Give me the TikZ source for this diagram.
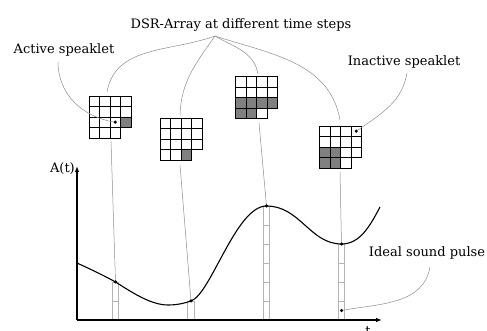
\documentclass[tikz,border=0pt]{standalone}
\usepackage{fontspec}
\setmainfont{DejaVu Serif}
\usetikzlibrary{arrows.meta}
\definecolor{ink}{HTML}{000000}
\definecolor{cellon}{HTML}{808080}
\definecolor{barline}{HTML}{B4B4B4}
\definecolor{leadgray}{HTML}{8C8C8C}
\tikzset{
  every node/.style={font=\fontsize{13}{15.5}\selectfont},
  cell/.style={draw=ink, line width=0.8pt, minimum size=10.5pt, inner sep=0pt, outer sep=0pt},
  oncell/.style={cell, fill=cellon},
  level/.style={draw=barline, line width=0.9pt, minimum width=6.5pt, minimum height=19pt,
                inner sep=0pt, outer sep=0pt},
  lead/.style={draw=leadgray, line width=0.5pt},
  axis/.style={-{Latex[length=6pt, width=4.5pt]}, line width=1.1pt, draw=ink},
  pulse/.style={line width=1.1pt, draw=ink},
  lbl/.style={inner sep=0pt, text=ink},
  spot/.style={circle, fill=ink, inner sep=0pt, minimum size=3.5pt},
}
% 4x4 speaklet array without its lower right cell; #4 lists the active cells (row/col)
\newcommand{\dsrgrid}[4]{%
  \foreach \r/\n in {1/4,2/4,3/4,4/3}
    \foreach \c in {1,...,\n}
      \node[cell] (#1-\r-\c) at ({#2+10.5*\c-5.25},{#3-10.5*\r+5.25}) {};
  \foreach \r/\c in {#4}
    \node[oncell] at (#1-\r-\c) {};
}

\begin{document}
\begin{tikzpicture}[x=1pt, y=1pt]
\useasboundingbox (0,0) rectangle (487,331);

% --- quantisation levels under each sample ---
\foreach \x/\n [count=\k] in {115.5/2, 191/1, 266.5/6, 341.5/4}
  \foreach \i in {1,...,\n}
    \node[level] (bar\k-\i) at (\x, {1.5+19*\i}) {};

% --- axes ---
\coordinate (o) at (77,11);
\coordinate (ytop) at (77,165);
\coordinate (xend) at (382,11);
\draw[axis] (o) -- (ytop);
\draw[axis] (o) -- (xend);
\node[lbl, anchor=east] (alabel) at (75,162) {A(t)};
\node[lbl, anchor=north] (tlabel) at (368,5) {t};

% --- sampled pulse ---
\node[spot] (s1) at (115.5,49) {};
\node[spot] (s2) at (191,30) {};
\node[spot] (s3) at (266.5,125) {};
\node[spot] (s4) at (341.5,87) {};
\draw[pulse] (77,68) .. controls (90,62) and (103,56) .. (s1.center)
  .. controls (130,40) and (150,26) .. (168,26)
  .. controls (178,26) and (185,28) .. (s2.center)
  .. controls (211,37) and (236,125) .. (s3.center)
  .. controls (300,125) and (310,87) .. (s4.center)
  .. controls (360,87) and (370,105) .. (380,124);

% --- DSR arrays ---
\dsrgrid{g1}{89}{235}{3/4}
\dsrgrid{g2}{160}{213}{4/3}
\dsrgrid{g3}{235.5}{254.5}{3/1,3/2,3/3,3/4,4/1,4/2}
\dsrgrid{g4}{319.5}{205}{3/1,3/2,4/1,4/2}
\node[spot] (adot) at (g1-3-3) {};
\node[spot] (idot) at (g4-1-4) {};
\node[spot] (pdot) at (bar4-1) {};

% arrays down to their samples
\coordinate (g1b) at (111,189.5);
\coordinate (g2b) at (180,166);
\coordinate (g3b) at (259,208);
\coordinate (g4b) at (340,159);
\draw[lead] (g1b) -- (s1);
\draw[lead] (g2b) -- (s2);
\draw[lead] (g3b) -- (s3);
\draw[lead] (g4b) -- (s4);

% --- labels ---
\node[lbl] (title) at (241,306) {DSR-Array at different time steps};
\coordinate (hub) at (215,295);
\coordinate (g1t) at (107,239);
\coordinate (g2t) at (180,216);
\coordinate (g3t) at (258,257);
\coordinate (g4t) at (340,211);
\draw[lead] (hub) to[out=200, in=80] (g1t);
\draw[lead] (hub) to[out=235, in=88] (g2t);
\draw[lead] (hub) to[out=-30, in=100] (g3t);
\draw[lead] (hub) to[out=-18, in=100] (g4t);

\node[lbl] (active) at (64,281) {Active speaklet};
\coordinate (activeb) at (58,269);
\draw[lead] (activeb) to[out=-90, in=170] (adot);

\node[lbl] (inactive) at (404,269) {Inactive speaklet};
\coordinate (inactiveb) at (407,258);
\draw[lead] (inactiveb) to[out=-100, in=35] (idot);

\node[lbl] (ideal) at (427,78) {Ideal sound pulse};
\coordinate (idealb) at (430,64);
\draw[lead] (idealb) to[out=-100, in=10] (pdot);

\end{tikzpicture}
\end{document}
